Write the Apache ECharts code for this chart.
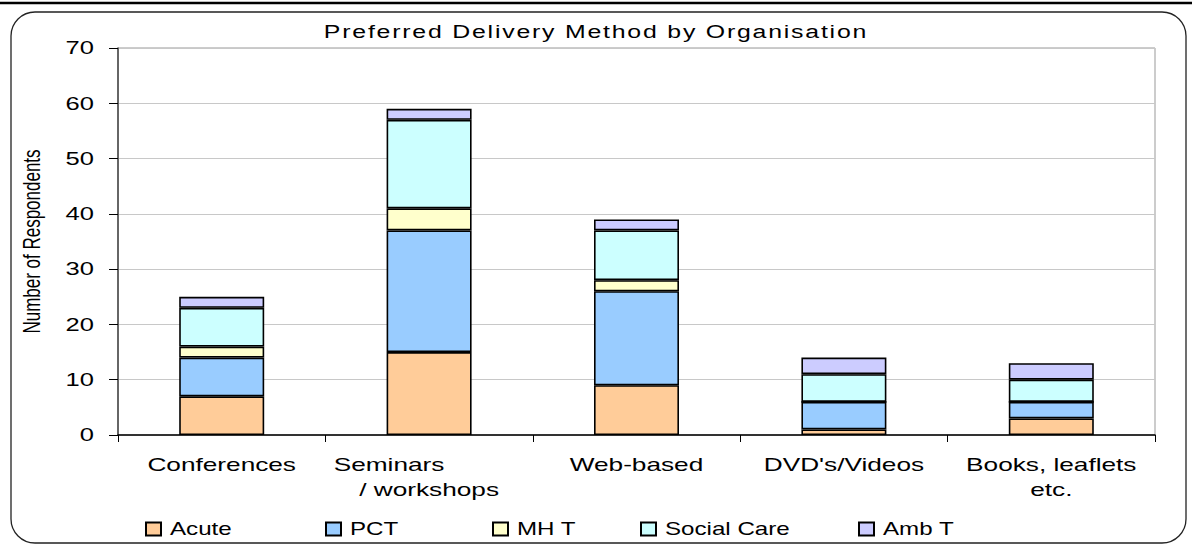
<!DOCTYPE html>
<html>
<head>
<meta charset="utf-8">
<script src="https://cdn.jsdelivr.net/npm/echarts@6/dist/echarts.min.js"></script>
<style>
  html, body { margin: 0; padding: 0; background: #fff; }
  #chart { width: 1192px; height: 545px; }
</style>
</head>
<body>
<div id="chart"></div>
<script>
// Preferred delivery method, stacked by organisation type
const categories = ['Conferences', 'Seminars / workshops', 'Web-based', "DVD's/Videos", 'Books, leaflets etc.']
const seriesNames = ['Acute', 'PCT', 'MH T', 'Social Care', 'Amb T']
const acute = [7, 15, 9, 1, 3]
const pct = [7, 22, 17, 5, 3]
const mht = [2, 4, 2, 0, 0]
const socialCare = [7, 16, 9, 5, 4]
const ambT = [2, 2, 2, 3, 3]
const yTicks = [0, 10, 20, 30, 40, 50, 60, 70]

const colors = ['#ffcc99', '#99ccff', '#ffffcc', '#ccffff', '#ccccff']
const values = [acute, pct, mht, socialCare, ambT]
// legend icon x positions
const legendLeft = [145, 325, 492, 640, 858]

const FONT = '"Liberation Sans", Arial, sans-serif'
const TITLE = 'Preferred Delivery Method by Organisation'
const Y_NAME = 'Number of Respondents'
const NBSP = '\u00a0'
// the reference is a horizontally stretched Excel export, text included
const STRETCH = 1.38

const chart = echarts.init(document.getElementById('chart'), null, { renderer: 'svg' })

chart.setOption({
  backgroundColor: '#fff',
  animation: false,
  textStyle: { fontFamily: FONT, color: '#000' },
  title: {
    text: TITLE,
    left: 'center',
    top: 18,
    textStyle: { fontFamily: FONT, fontSize: 18, fontWeight: 'normal', color: '#000' }
  },
  legend: seriesNames.map(function (n, i) {
    return {
      data: [n],
      left: legendLeft[i],
      top: 520,
      padding: 0,
      icon: 'rect',
      itemWidth: 15,
      itemHeight: 13,
      selectedMode: false,
      textStyle: { fontFamily: FONT, fontSize: 17.5, color: '#000', padding: [0, 0, 0, 4] }
    }
  }),
  grid: {
    left: 118, right: 37, top: 48, bottom: 110,
    show: true, borderColor: '#999', borderWidth: 1
  },
  xAxis: {
    type: 'category',
    data: categories,
    axisLine: { lineStyle: { color: '#000', width: 1.5 } },
    axisTick: { show: true, length: 7, lineStyle: { color: '#000' } },
    axisLabel: {
      margin: 17,
      fontSize: 19,
      lineHeight: 25,
      color: '#000',
      fontFamily: FONT,
      formatter: function (v) {
        // Excel wrapped these two; "Seminars" sits left of the centre
        if (v === 'Seminars / workshops') return 'Seminars' + NBSP.repeat(11) + '\n/ workshops'
        if (v === 'Books, leaflets etc.') return 'Books, leaflets\netc.'
        return v
      }
    }
  },
  yAxis: {
    type: 'value',
    min: yTicks[0],
    max: yTicks[yTicks.length - 1],
    interval: 10,
    name: Y_NAME,
    nameLocation: 'middle',
    nameGap: 78,
    nameTextStyle: { fontFamily: FONT, fontSize: 17, color: '#000' },
    axisLine: { show: true, lineStyle: { color: '#444', width: 1.5 } },
    axisTick: { show: true, length: 9, lineStyle: { color: '#000' } },
    axisLabel: { fontSize: 18.5, color: '#000', margin: 24, fontFamily: FONT },
    splitLine: { lineStyle: { color: '#c8c8c8', width: 1 } }
  },
  series: seriesNames.map(function (n, i) {
    return {
      name: n,
      type: 'bar',
      stack: 'total',
      barWidth: 85,
      data: values[i],
      itemStyle: { color: colors[i], borderColor: '#000', borderWidth: 1.6 }
    }
  }),
  graphic: [
    {
      type: 'line',
      shape: { x1: 0, y1: 3, x2: 1192, y2: 3 },
      style: { stroke: '#000', lineWidth: 2.5 }
    },
    {
      type: 'rect',
      shape: { x: 11, y: 12, width: 1175, height: 531, r: 24 },
      style: { fill: null, stroke: '#222', lineWidth: 1.3 },
      z: -1
    }
  ]
})

// stretch every text around its own anchor point so alignment is kept;
// the rotated axis name is stretched across its glyphs instead
function stretchText() {
  document.querySelectorAll('#chart text').forEach(function (t) {
    if (t.dataset.stretched) return
    t.dataset.stretched = '1'
    const x = parseFloat(t.getAttribute('x')) || 0
    const y = parseFloat(t.getAttribute('y')) || 0
    const s = t.textContent
    const scale = s === Y_NAME ? 'scale(1 ' + STRETCH + ')' : 'scale(' + STRETCH + ' 1)'
    const orig = t.getAttribute('transform') || ''
    t.setAttribute('transform', orig + ' translate(' + x + ' ' + y + ') ' + scale + ' translate(' + (-x) + ' ' + (-y) + ')')
    if (s === TITLE) t.style.letterSpacing = '1.3px'
  })
}
stretchText()
chart.on('finished', stretchText)
</script>
</body>
</html>
